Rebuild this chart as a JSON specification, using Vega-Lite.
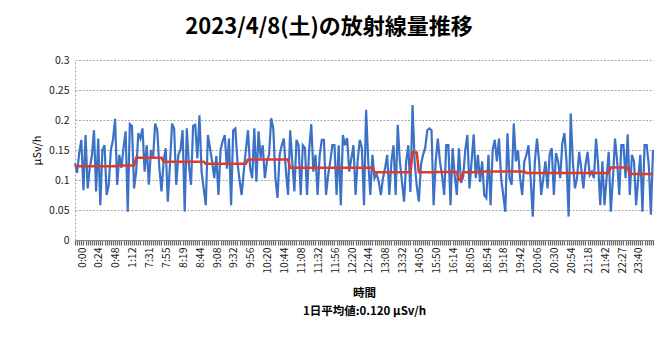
{
  "$schema": "https://vega.github.io/schema/vega-lite/v6.json",
  "width": 578,
  "height": 180,
  "autosize": {"type": "none"},
  "padding": {"left": 75, "top": 60, "right": 17, "bottom": 97},
  "background": "white",
  "title": {"text": "2023/4/8(土)の放射線量推移", "font": "Noto Sans CJK JP", "fontSize": 22, "fontWeight": "bold", "color": "#000000", "offset": 16, "dx": -35},
  "config": {"view": {"stroke": null}, "font": "Noto Sans CJK JP"},
  "data": {"values": [
{"t":"0:00","v":0.128,"a":0.123},{"t":"0:03","v":0.112,"a":0.123},{"t":"0:06","v":0.145,"a":0.123},{"t":"0:09","v":0.167,"a":0.123},{"t":"0:12","v":0.083,"a":0.123},{"t":"0:15","v":0.175,"a":0.123},{"t":"0:18","v":0.086,"a":0.123},{"t":"0:21","v":0.120,"a":0.123},{"t":"0:24","v":0.140,"a":0.123},{"t":"0:27","v":0.183,"a":0.123},
{"t":"0:30","v":0.081,"a":0.123},{"t":"0:33","v":0.169,"a":0.123},{"t":"0:36","v":0.058,"a":0.123},{"t":"0:39","v":0.150,"a":0.123},{"t":"0:42","v":0.158,"a":0.123},{"t":"0:45","v":0.075,"a":0.123},{"t":"0:48","v":0.092,"a":0.123},{"t":"0:51","v":0.150,"a":0.123},{"t":"0:54","v":0.167,"a":0.123},{"t":"0:57","v":0.202,"a":0.123},
{"t":"1:00","v":0.092,"a":0.124},{"t":"1:03","v":0.142,"a":0.124},{"t":"1:06","v":0.120,"a":0.124},{"t":"1:09","v":0.153,"a":0.124},{"t":"1:12","v":0.181,"a":0.124},{"t":"1:15","v":0.047,"a":0.124},{"t":"1:18","v":0.193,"a":0.124},{"t":"1:21","v":0.190,"a":0.124},{"t":"1:24","v":0.086,"a":0.124},{"t":"7:22","v":0.114,"a":0.137},
{"t":"7:25","v":0.178,"a":0.137},{"t":"7:28","v":0.169,"a":0.137},{"t":"7:31","v":0.186,"a":0.137},{"t":"7:34","v":0.114,"a":0.137},{"t":"7:37","v":0.158,"a":0.137},{"t":"7:40","v":0.092,"a":0.137},{"t":"7:43","v":0.150,"a":0.137},{"t":"7:46","v":0.136,"a":0.137},{"t":"7:49","v":0.194,"a":0.137},{"t":"7:52","v":0.183,"a":0.137},
{"t":"7:55","v":0.120,"a":0.137},{"t":"7:58","v":0.081,"a":0.137},{"t":"8:01","v":0.131,"a":0.1305},{"t":"8:04","v":0.153,"a":0.1305},{"t":"8:07","v":0.064,"a":0.1305},{"t":"8:10","v":0.125,"a":0.1305},{"t":"8:13","v":0.194,"a":0.1305},{"t":"8:16","v":0.186,"a":0.1305},{"t":"8:19","v":0.092,"a":0.1305},{"t":"8:22","v":0.142,"a":0.1305},
{"t":"8:25","v":0.150,"a":0.1305},{"t":"8:28","v":0.183,"a":0.1305},{"t":"8:31","v":0.047,"a":0.1305},{"t":"8:34","v":0.186,"a":0.1305},{"t":"8:37","v":0.125,"a":0.1305},{"t":"8:40","v":0.092,"a":0.1305},{"t":"8:44","v":0.190,"a":0.1305},{"t":"8:47","v":0.192,"a":0.1305},{"t":"8:50","v":0.136,"a":0.1305},{"t":"8:53","v":0.208,"a":0.1305},
{"t":"8:56","v":0.114,"a":0.1305},{"t":"8:59","v":0.086,"a":0.1305},{"t":"9:02","v":0.058,"a":0.127},{"t":"9:05","v":0.175,"a":0.127},{"t":"9:08","v":0.153,"a":0.127},{"t":"9:11","v":0.131,"a":0.127},{"t":"9:14","v":0.103,"a":0.127},{"t":"9:17","v":0.140,"a":0.127},{"t":"9:20","v":0.075,"a":0.127},{"t":"9:23","v":0.150,"a":0.127},
{"t":"9:26","v":0.165,"a":0.127},{"t":"9:29","v":0.175,"a":0.127},{"t":"9:32","v":0.119,"a":0.127},{"t":"9:35","v":0.169,"a":0.127},{"t":"9:38","v":0.058,"a":0.127},{"t":"9:41","v":0.183,"a":0.127},{"t":"9:44","v":0.186,"a":0.127},{"t":"9:47","v":0.131,"a":0.127},{"t":"9:50","v":0.100,"a":0.127},{"t":"9:53","v":0.075,"a":0.127},
{"t":"9:56","v":0.114,"a":0.127},{"t":"9:59","v":0.150,"a":0.127},{"t":"10:02","v":0.183,"a":0.134},{"t":"10:05","v":0.120,"a":0.134},{"t":"10:08","v":0.103,"a":0.134},{"t":"10:11","v":0.186,"a":0.134},{"t":"10:14","v":0.097,"a":0.134},{"t":"10:17","v":0.181,"a":0.134},{"t":"10:20","v":0.136,"a":0.134},{"t":"10:23","v":0.158,"a":0.134},
{"t":"10:26","v":0.103,"a":0.134},{"t":"10:29","v":0.131,"a":0.134},{"t":"10:32","v":0.142,"a":0.134},{"t":"10:35","v":0.203,"a":0.134},{"t":"10:38","v":0.186,"a":0.134},{"t":"10:41","v":0.103,"a":0.134},{"t":"10:44","v":0.070,"a":0.134},{"t":"10:47","v":0.142,"a":0.134},{"t":"10:50","v":0.158,"a":0.134},{"t":"10:53","v":0.169,"a":0.134},
{"t":"10:56","v":0.114,"a":0.134},{"t":"10:59","v":0.075,"a":0.134},{"t":"11:02","v":0.183,"a":0.1205},{"t":"11:05","v":0.131,"a":0.1205},{"t":"11:08","v":0.081,"a":0.1205},{"t":"11:11","v":0.167,"a":0.1205},{"t":"11:14","v":0.158,"a":0.1205},{"t":"11:17","v":0.075,"a":0.1205},{"t":"11:20","v":0.158,"a":0.1205},{"t":"11:23","v":0.153,"a":0.1205},
{"t":"11:26","v":0.075,"a":0.1205},{"t":"11:29","v":0.150,"a":0.1205},{"t":"11:32","v":0.193,"a":0.1205},{"t":"11:35","v":0.114,"a":0.1205},{"t":"11:38","v":0.142,"a":0.1205},{"t":"11:41","v":0.075,"a":0.1205},{"t":"11:44","v":0.142,"a":0.1205},{"t":"11:47","v":0.167,"a":0.1205},{"t":"11:50","v":0.167,"a":0.1205},{"t":"11:53","v":0.075,"a":0.1205},
{"t":"11:56","v":0.108,"a":0.1205},{"t":"11:59","v":0.131,"a":0.1205},{"t":"12:02","v":0.158,"a":0.1205},{"t":"12:05","v":0.158,"a":0.1205},{"t":"12:08","v":0.075,"a":0.1205},{"t":"12:11","v":0.158,"a":0.1205},{"t":"12:14","v":0.058,"a":0.1205},{"t":"12:17","v":0.175,"a":0.1205},{"t":"12:20","v":0.158,"a":0.1205},{"t":"12:23","v":0.170,"a":0.1205},
{"t":"12:26","v":0.114,"a":0.1205},{"t":"12:29","v":0.136,"a":0.1205},{"t":"12:32","v":0.158,"a":0.1205},{"t":"12:35","v":0.075,"a":0.1205},{"t":"12:38","v":0.133,"a":0.1205},{"t":"12:41","v":0.167,"a":0.1205},{"t":"12:44","v":0.153,"a":0.1205},{"t":"12:47","v":0.058,"a":0.1205},{"t":"12:50","v":0.217,"a":0.1205},{"t":"12:53","v":0.131,"a":0.1205},
{"t":"12:56","v":0.075,"a":0.1205},{"t":"12:59","v":0.142,"a":0.1205},{"t":"13:02","v":0.103,"a":0.113},{"t":"13:05","v":0.110,"a":0.113},{"t":"13:08","v":0.097,"a":0.113},{"t":"13:11","v":0.075,"a":0.113},{"t":"13:14","v":0.103,"a":0.113},{"t":"13:17","v":0.120,"a":0.113},{"t":"13:20","v":0.142,"a":0.113},{"t":"13:23","v":0.075,"a":0.113},
{"t":"13:26","v":0.131,"a":0.113},{"t":"13:29","v":0.158,"a":0.113},{"t":"13:32","v":0.075,"a":0.113},{"t":"13:35","v":0.192,"a":0.113},{"t":"13:38","v":0.131,"a":0.113},{"t":"13:41","v":0.097,"a":0.113},{"t":"13:44","v":0.064,"a":0.113},{"t":"13:47","v":0.131,"a":0.113},{"t":"13:50","v":0.158,"a":0.113},{"t":"13:53","v":0.080,"a":0.113},
{"t":"14:05","v":0.225,"a":0.146},{"t":"14:08","v":0.131,"a":0.146},{"t":"14:11","v":0.090,"a":0.146},{"t":"15:35","v":0.064,"a":0.113},{"t":"15:38","v":0.125,"a":0.113},{"t":"15:41","v":0.142,"a":0.113},{"t":"15:44","v":0.153,"a":0.113},{"t":"15:47","v":0.183,"a":0.113},{"t":"15:50","v":0.186,"a":0.113},{"t":"15:53","v":0.183,"a":0.113},
{"t":"15:56","v":0.058,"a":0.113},{"t":"15:59","v":0.131,"a":0.113},{"t":"16:02","v":0.169,"a":0.1135},{"t":"16:05","v":0.131,"a":0.1135},{"t":"16:08","v":0.108,"a":0.1135},{"t":"16:11","v":0.075,"a":0.1135},{"t":"16:14","v":0.158,"a":0.1135},{"t":"16:17","v":0.158,"a":0.1135},{"t":"16:20","v":0.058,"a":0.1135},{"t":"16:23","v":0.153,"a":0.1135},
{"t":"16:26","v":0.108,"a":0.1135},{"t":"16:29","v":0.075,"a":0.1135},{"t":"17:52","v":0.153,"a":0.100},{"t":"17:56","v":0.095,"a":0.100},{"t":"18:05","v":0.105,"a":0.113},{"t":"18:11","v":0.150,"a":0.113},{"t":"18:17","v":0.175,"a":0.113},{"t":"18:23","v":0.086,"a":0.113},{"t":"18:29","v":0.131,"a":0.113},{"t":"18:35","v":0.176,"a":0.113},
{"t":"18:41","v":0.103,"a":0.113},{"t":"18:47","v":0.142,"a":0.113},{"t":"18:54","v":0.097,"a":0.113},{"t":"18:57","v":0.131,"a":0.113},{"t":"19:00","v":0.075,"a":0.114},{"t":"19:03","v":0.070,"a":0.114},{"t":"19:06","v":0.142,"a":0.114},{"t":"19:09","v":0.058,"a":0.114},{"t":"19:12","v":0.150,"a":0.114},{"t":"19:15","v":0.167,"a":0.114},
{"t":"19:18","v":0.131,"a":0.114},{"t":"19:21","v":0.169,"a":0.114},{"t":"19:24","v":0.103,"a":0.114},{"t":"19:27","v":0.075,"a":0.114},{"t":"19:30","v":0.047,"a":0.114},{"t":"19:33","v":0.178,"a":0.114},{"t":"19:36","v":0.103,"a":0.114},{"t":"19:39","v":0.092,"a":0.114},{"t":"19:42","v":0.194,"a":0.114},{"t":"19:45","v":0.131,"a":0.114},
{"t":"19:48","v":0.150,"a":0.114},{"t":"19:51","v":0.103,"a":0.114},{"t":"19:54","v":0.075,"a":0.114},{"t":"19:57","v":0.131,"a":0.114},{"t":"20:00","v":0.142,"a":0.1117},{"t":"20:03","v":0.158,"a":0.1117},{"t":"20:06","v":0.103,"a":0.1117},{"t":"20:09","v":0.039,"a":0.1117},{"t":"20:12","v":0.131,"a":0.1117},{"t":"20:15","v":0.169,"a":0.1117},
{"t":"20:18","v":0.131,"a":0.1117},{"t":"20:21","v":0.075,"a":0.1117},{"t":"20:24","v":0.103,"a":0.1117},{"t":"20:27","v":0.131,"a":0.1117},{"t":"20:30","v":0.086,"a":0.1117},{"t":"20:33","v":0.142,"a":0.1117},{"t":"20:36","v":0.153,"a":0.1117},{"t":"20:39","v":0.075,"a":0.1117},{"t":"20:42","v":0.145,"a":0.1117},{"t":"20:45","v":0.131,"a":0.1117},
{"t":"20:48","v":0.103,"a":0.1117},{"t":"20:51","v":0.161,"a":0.1117},{"t":"20:54","v":0.178,"a":0.1117},{"t":"20:57","v":0.131,"a":0.1117},{"t":"21:00","v":0.039,"a":0.1117},{"t":"21:03","v":0.211,"a":0.1117},{"t":"21:06","v":0.131,"a":0.1117},{"t":"21:09","v":0.086,"a":0.1117},{"t":"21:12","v":0.103,"a":0.1117},{"t":"21:15","v":0.147,"a":0.1117},
{"t":"21:18","v":0.119,"a":0.1117},{"t":"21:21","v":0.086,"a":0.1117},{"t":"21:24","v":0.125,"a":0.1117},{"t":"21:27","v":0.147,"a":0.1117},{"t":"21:30","v":0.108,"a":0.1117},{"t":"21:33","v":0.114,"a":0.1117},{"t":"21:36","v":0.103,"a":0.1117},{"t":"21:39","v":0.169,"a":0.1117},{"t":"21:42","v":0.125,"a":0.1117},{"t":"21:45","v":0.058,"a":0.1117},
{"t":"21:48","v":0.131,"a":0.1117},{"t":"21:51","v":0.058,"a":0.1117},{"t":"21:54","v":0.103,"a":0.1117},{"t":"21:57","v":0.147,"a":0.1117},{"t":"22:21","v":0.047,"a":0.121},{"t":"22:24","v":0.103,"a":0.121},{"t":"22:27","v":0.169,"a":0.121},{"t":"22:30","v":0.131,"a":0.121},{"t":"22:33","v":0.075,"a":0.121},{"t":"22:36","v":0.158,"a":0.121},
{"t":"22:39","v":0.158,"a":0.121},{"t":"22:42","v":0.103,"a":0.121},{"t":"22:45","v":0.176,"a":0.121},{"t":"23:37","v":0.075,"a":0.110},{"t":"23:40","v":0.142,"a":0.110},{"t":"23:42","v":0.131,"a":0.110},{"t":"23:44","v":0.058,"a":0.110},{"t":"23:46","v":0.103,"a":0.110},{"t":"23:48","v":0.142,"a":0.110},{"t":"23:50","v":0.047,"a":0.110},
{"t":"23:52","v":0.158,"a":0.110},{"t":"23:54","v":0.158,"a":0.110},{"t":"23:56","v":0.125,"a":0.110},{"t":"23:58","v":0.042,"a":0.110},{"t":"23:59","v":0.150,"a":0.110}
  ]},
  "encoding": {
    "x": {
      "field": "t", "type": "ordinal", "sort": null,
      "scale": {"type": "point", "padding": 0},
      "axis": {
        "title": ["時間", "1日平均値:0.120 μSv/h"],
        "titleFont": "Noto Sans CJK JP", "titleFontSize": 11.5, "titleFontWeight": "bold", "titleColor": "#000000",
        "titlePadding": 14, "titleLineHeight": 18,
        "labelAngle": -90, "labelFontSize": 10.5, "labelColor": "#222222", "labelPadding": 2, "labelOffset": 7,
        "labelOverlap": false,
        "labelExpr": "indexof(['0:00','0:24','0:48','1:12','7:31','7:55','8:19','8:44','9:08','9:32','9:56','10:20','10:44','11:08','11:32','11:56','12:20','12:44','13:08','13:32','14:05','15:50','16:14','18:05','18:54','19:18','19:42','20:06','20:30','20:54','21:18','21:42','22:27','23:40'], datum.value) >= 0 ? datum.value : ''",
        "ticks": true, "tickSize": 5, "tickColor": "#666666", "tickWidth": 1.2, "tickRound": true,
        "domainColor": "#8a8a8a", "grid": false
      }
    },
    "y": {
      "type": "quantitative",
      "scale": {"domain": [0, 0.3], "nice": false, "zero": true},
      "axis": {
        "title": "μSv/h", "titleFont": "Noto Sans CJK JP", "titleFontSize": 11, "titleFontWeight": "normal", "titleColor": "#000000", "titlePadding": 6,
        "values": [0, 0.05, 0.1, 0.15, 0.2, 0.25, 0.3], "format": "~g",
        "labelFontSize": 10.5, "labelColor": "#222222", "labelPadding": 6,
        "ticks": false, "domainColor": "#9a9a9a", "domainDash": [2, 2],
        "grid": true, "gridColor": "#a8a8a8", "gridDash": [2, 1.5], "gridWidth": 1
      }
    }
  },
  "layer": [
    {"mark": {"type": "line", "color": "#3b72c6", "strokeWidth": 2.2}, "encoding": {"y": {"field": "v", "type": "quantitative"}}},
    {"mark": {"type": "line", "color": "#dd3a2c", "strokeWidth": 2.5}, "encoding": {"y": {"field": "a", "type": "quantitative"}}}
  ]
}
